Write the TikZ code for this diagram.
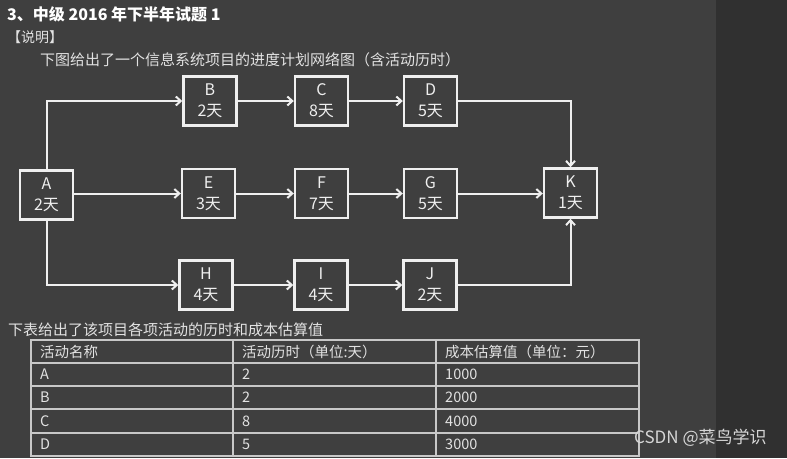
\documentclass[tikz,border=0pt]{standalone}
\usepackage{fontspec}
\setmainfont{Noto Sans CJK SC}
\usetikzlibrary{arrows.meta}
\definecolor{bgmain}{HTML}{3F3F3F}
\definecolor{bgdark}{HTML}{303030}
\definecolor{boxline}{HTML}{EFEFEF}
\definecolor{txt}{HTML}{E2E2E2}
\definecolor{tabline}{HTML}{C8C8C8}
\definecolor{wm}{HTML}{D6D6D6}
\begin{document}
\begin{tikzpicture}[x=1pt,y=-1pt,
  actbox/.style={draw=boxline, line width=2.4pt, fill=bgmain, text=boxline,
    minimum width=53pt, minimum height=49pt, inner sep=0pt, align=center,
    font=\fontsize{16}{21}\selectfont},
  conn/.style={draw=boxline, line width=2pt, -{Straight Barb[length=5pt,width=9pt]}},
  cell/.style={anchor=west, text=txt, inner sep=0pt, font=\fontsize{14.5}{16}\selectfont},
  tline/.style={draw=tabline, line width=1.2pt}]
\useasboundingbox (0,0) rectangle (787,458);
\fill[bgmain] (0,0) rectangle (716,458);
\fill[bgdark] (716,0) rectangle (787,458);

% texts
\node[anchor=west, inner sep=0pt, text=white, font=\fontsize{16}{18}\selectfont\bfseries] (title) at (7,14) {3、中级 2016 年下半年试题 1};
\node[anchor=west, inner sep=0pt, text=txt, font=\fontsize{14}{16}\selectfont] (expl) at (7,37) {【说明】};
\node[anchor=west, inner sep=0pt, text=txt, font=\fontsize{15}{17}\selectfont] (intro) at (40,60) {下图给出了一个信息系统项目的进度计划网络图（含活动历时）};

% boxes
\node[actbox] (A) at (46.5,195) {A\\2天};
\node[actbox] (B) at (210,101) {B\\2天};
\node[actbox] (C) at (321.5,101) {C\\8天};
\node[actbox] (D) at (430.5,101) {D\\5天};
\node[actbox] (E) at (208.5,193.5) {E\\3天};
\node[actbox] (F) at (321.5,193.5) {F\\7天};
\node[actbox] (G) at (430.5,193.5) {G\\5天};
\node[actbox] (H) at (206,285) {H\\4天};
\node[actbox] (I) at (321,285) {I\\4天};
\node[actbox] (J) at (430,285) {J\\2天};
\node[actbox] (K) at (570.5,193) {K\\1天};

% connectors
\draw[conn] (A.north) |- (B.west);
\draw[conn] (A.east |- E.west) -- (E.west);
\draw[conn] (A.south) |- (H.west);
\draw[conn] (B) -- (C);
\draw[conn] (C) -- (D);
\draw[conn] (E) -- (F);
\draw[conn] (F) -- (G);
\draw[conn] (G.east) -- (K.west |- G.east);
\draw[conn] (H) -- (I);
\draw[conn] (I) -- (J);
\draw[conn] (D.east) -| (K.north);
\draw[conn] (J.east) -| (K.south);

% table caption
\node[anchor=west, inner sep=0pt, text=txt, font=\fontsize{15}{17}\selectfont] (cap) at (8,330) {下表给出了该项目各项活动的历时和成本估算值};

% table
\draw[tline] (31,340) rectangle (639,456);
\foreach \yy in {363,386,409,433} \draw[tline] (31,\yy) -- (639,\yy);
\draw[tline] (233,340) -- (233,456);
\draw[tline] (436,340) -- (436,456);

\node[cell] (h1) at (40,351.5) {活动名称};
\node[cell] (h2) at (242,351.5) {活动历时（单位:天）};
\node[cell] (h3) at (445,351.5) {成本估算值（单位：元）};
\node[cell] (a1) at (40,374.5) {A};
\node[cell] (a2) at (242,374.5) {2};
\node[cell] (a3) at (445,374.5) {1000};
\node[cell] (b1) at (40,397.5) {B};
\node[cell] (b2) at (242,397.5) {2};
\node[cell] (b3) at (445,397.5) {2000};
\node[cell] (c1) at (40,421) {C};
\node[cell] (c2) at (242,421) {8};
\node[cell] (c3) at (445,421) {4000};
\node[cell] (d1) at (40,444.5) {D};
\node[cell] (d2) at (242,444.5) {5};
\node[cell] (d3) at (445,444.5) {3000};

% watermark
\node[anchor=west, inner sep=0pt, text=wm, font=\fontsize{17}{19}\selectfont] (wmark) at (634,438) {CSDN @菜鸟学识};
\end{tikzpicture}
\end{document}
